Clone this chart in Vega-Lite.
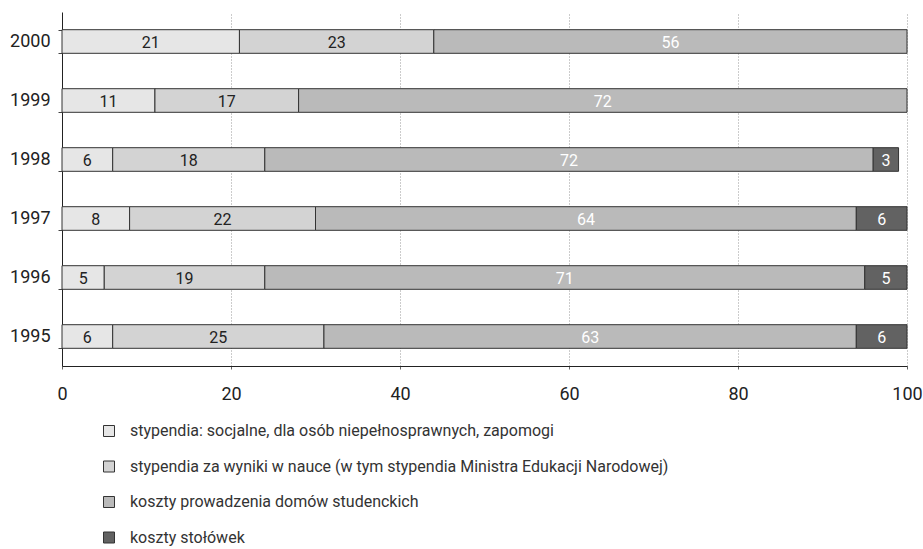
{
  "$schema": "https://vega.github.io/schema/vega-lite/v6.json",
  "width": 845,
  "height": 354,
  "autosize": {"type": "none"},
  "padding": {"left": 62, "top": 12, "right": 16, "bottom": 183},
  "background": "white",
  "config": {
    "font": "Roboto, sans-serif",
    "view": {"stroke": null}
  },
  "data": {
    "values": [
      {"rok": "2000", "kat": "stypendia: socjalne, dla osób niepełnosprawnych, zapomogi", "k": 1, "v": 21},
      {"rok": "2000", "kat": "stypendia za wyniki w nauce (w tym stypendia Ministra Edukacji Narodowej)", "k": 2, "v": 23},
      {"rok": "2000", "kat": "koszty prowadzenia domów studenckich", "k": 3, "v": 56},
      {"rok": "1999", "kat": "stypendia: socjalne, dla osób niepełnosprawnych, zapomogi", "k": 1, "v": 11},
      {"rok": "1999", "kat": "stypendia za wyniki w nauce (w tym stypendia Ministra Edukacji Narodowej)", "k": 2, "v": 17},
      {"rok": "1999", "kat": "koszty prowadzenia domów studenckich", "k": 3, "v": 72},
      {"rok": "1998", "kat": "stypendia: socjalne, dla osób niepełnosprawnych, zapomogi", "k": 1, "v": 6},
      {"rok": "1998", "kat": "stypendia za wyniki w nauce (w tym stypendia Ministra Edukacji Narodowej)", "k": 2, "v": 18},
      {"rok": "1998", "kat": "koszty prowadzenia domów studenckich", "k": 3, "v": 72},
      {"rok": "1998", "kat": "koszty stołówek", "k": 4, "v": 3},
      {"rok": "1997", "kat": "stypendia: socjalne, dla osób niepełnosprawnych, zapomogi", "k": 1, "v": 8},
      {"rok": "1997", "kat": "stypendia za wyniki w nauce (w tym stypendia Ministra Edukacji Narodowej)", "k": 2, "v": 22},
      {"rok": "1997", "kat": "koszty prowadzenia domów studenckich", "k": 3, "v": 64},
      {"rok": "1997", "kat": "koszty stołówek", "k": 4, "v": 6},
      {"rok": "1996", "kat": "stypendia: socjalne, dla osób niepełnosprawnych, zapomogi", "k": 1, "v": 5},
      {"rok": "1996", "kat": "stypendia za wyniki w nauce (w tym stypendia Ministra Edukacji Narodowej)", "k": 2, "v": 19},
      {"rok": "1996", "kat": "koszty prowadzenia domów studenckich", "k": 3, "v": 71},
      {"rok": "1996", "kat": "koszty stołówek", "k": 4, "v": 5},
      {"rok": "1995", "kat": "stypendia: socjalne, dla osób niepełnosprawnych, zapomogi", "k": 1, "v": 6},
      {"rok": "1995", "kat": "stypendia za wyniki w nauce (w tym stypendia Ministra Edukacji Narodowej)", "k": 2, "v": 25},
      {"rok": "1995", "kat": "koszty prowadzenia domów studenckich", "k": 3, "v": 63},
      {"rok": "1995", "kat": "koszty stołówek", "k": 4, "v": 6}
    ]
  },
  "encoding": {
    "y": {
      "field": "rok", "type": "nominal", "sort": "descending",
      "scale": {"paddingInner": 0.6, "paddingOuter": 0.3},
      "axis": {
        "title": null, "labelFontSize": 18, "labelColor": "#222", "labelPadding": 8,
        "domainColor": "#222", "tickColor": "#444", "tickSize": 4, "tickBand": "extent",
        "grid": false
      }
    }
  },
  "layer": [
    {
      "mark": {"type": "bar", "stroke": "#333", "strokeWidth": 1},
      "encoding": {
        "x": {
          "field": "v", "type": "quantitative", "stack": "zero",
          "scale": {"domain": [0, 100], "nice": false},
          "axis": {
            "title": null, "values": [0, 20, 40, 60, 80, 100], "labelFontSize": 18,
            "labelColor": "#222", "labelPadding": 16, "domainColor": "#222",
            "tickColor": "#666", "tickSize": 3,
            "grid": true, "gridColor": "#999", "gridDash": [1, 2], "gridWidth": 1,
            "labelFlush": false
          }
        },
        "order": {"field": "k", "type": "quantitative"},
        "color": {
          "field": "kat", "type": "nominal",
          "scale": {
            "domain": [
              "stypendia: socjalne, dla osób niepełnosprawnych, zapomogi",
              "stypendia za wyniki w nauce (w tym stypendia Ministra Edukacji Narodowej)",
              "koszty prowadzenia domów studenckich",
              "koszty stołówek"
            ],
            "range": ["#e6e6e6", "#d3d3d3", "#bababa", "#626262"]
          },
          "legend": {
            "title": null, "orient": "none", "legendX": 39, "legendY": 411,
            "direction": "vertical", "symbolType": "square", "symbolSize": 121,
            "symbolStrokeColor": "#333", "symbolStrokeWidth": 1,
            "labelFontSize": 16, "labelColor": "#333", "labelOffset": 13,
            "rowPadding": 19.5, "labelLimit": 800
          }
        }
      }
    },
    {
      "mark": {"type": "text", "fontSize": 16, "align": "center", "baseline": "middle", "dy": 1},
      "encoding": {
        "x": {"field": "v", "type": "quantitative", "stack": "zero", "bandPosition": 0.5},
        "order": {"field": "k", "type": "quantitative"},
        "text": {"field": "v", "type": "quantitative"},
        "color": {"condition": {"test": "datum.k >= 3", "value": "#ffffff"}, "value": "#222222"}
      }
    }
  ]
}
